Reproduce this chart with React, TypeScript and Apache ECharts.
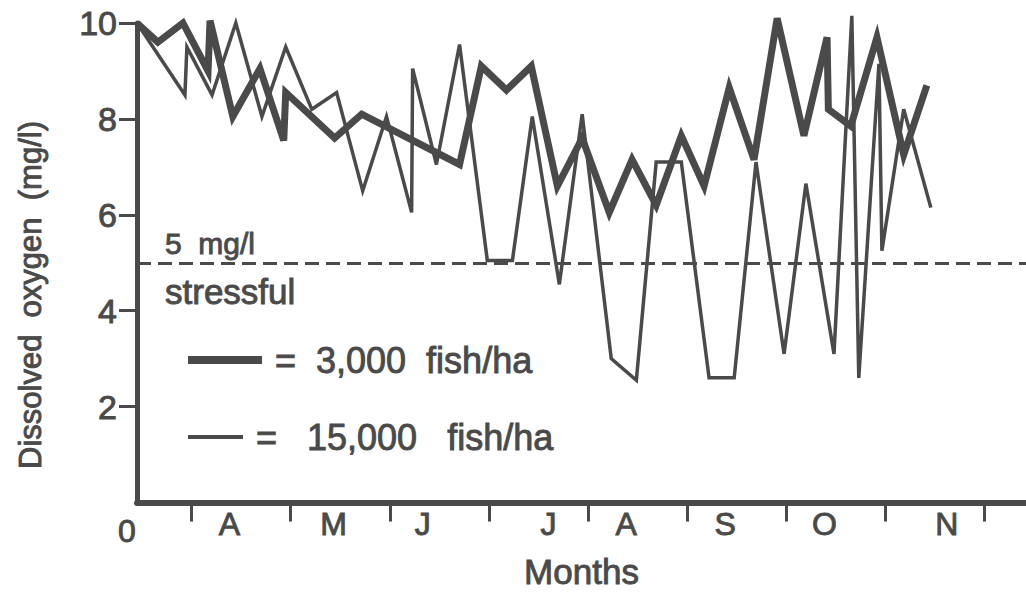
import React, { useEffect, useRef } from "react";
import * as echarts from "echarts";

// x = days since start of record, y = dissolved oxygen (mg/l)
const lowDensityDays = [0, 6.3, 13.9, 21.5, 22.1, 29, 37.2, 44.4, 45, 59.8, 68, 97.6, 104.2, 111.8, 119.3, 127.2, 134.7, 142.9, 149.8, 157.1, 164.7, 171.6, 179.2, 186.7, 193.7, 201.8, 208.8, 209.2, 216, 223.9, 232, 239];
const lowDensityDO = [10.0, 9.6, 10.0, 9.0, 10.05, 8.05, 9.05, 7.55, 8.55, 7.6, 8.1, 7.05, 9.1, 8.6, 9.1, 6.6, 7.6, 6.05, 7.15, 6.2, 7.65, 6.6, 8.65, 7.15, 10.1, 7.65, 9.7, 8.2, 7.85, 9.7, 7.25, 8.7];

const highDensityDays = [0, 14.5, 15.1, 22.7, 29.9, 37.8, 45.0, 52.9, 60.4, 68.3, 75.5, 83.1, 83.4, 90.6, 97.6, 106.0, 113.6, 119.6, 127.8, 134.7, 143.5, 151.1, 157.1, 164.7, 173.1, 180.7, 187.3, 195.8, 202.4, 210.9, 216.3, 218.4, 224.5, 225.4, 232.0, 240.2];
const highDensityDO = [10.0, 8.5, 9.5, 8.5, 10.0, 8.05, 9.5, 8.2, 8.55, 6.5, 8.05, 6.05, 9.05, 7.05, 9.55, 5.05, 5.05, 8.05, 4.55, 8.1, 3.0, 2.55, 7.1, 7.1, 2.6, 2.6, 7.1, 3.1, 6.65, 3.1, 10.15, 2.6, 9.15, 5.25, 8.2, 6.15];

const monthTickDays = [16.5, 46.5, 76.5, 106.5, 136.5, 166.5, 196.5, 226.5, 256.5];
const monthLabelDays = [28, 59.5, 86.5, 124.5, 148, 178, 208, 245];
const monthLabels = ["A", "M", "J", "J", "A", "S", "O", "N"];
const yTicks = [2, 4, 6, 8, 10];
const stressThreshold = 5;

const INK = "#4a4a4a";
const FONT = "'Liberation Sans', Arial, Helvetica, sans-serif";
const heavy = { textBorderColor: INK, textBorderWidth: 0.9 };
const heavyG = { stroke: INK, lineWidth: 0.9 };

export default function App() {
  const ref = useRef<HTMLDivElement>(null);
  useEffect(() => {
    if (!ref.current) return;
    const chart = echarts.init(ref.current, null, { renderer: "svg" });
    const zip = (xs: number[], ys: number[]) => xs.map((x, i) => [x, ys[i]]);
    chart.setOption({
      animation: false,
      backgroundColor: "#ffffff",
      textStyle: { fontFamily: FONT, color: INK },
      grid: { left: 137, right: 0, top: 23, bottom: 76, containLabel: false },
      xAxis: {
        type: "value",
        min: 0,
        max: 269,
        splitLine: { show: false },
        axisLine: { show: true, onZero: false, lineStyle: { color: INK, width: 6 } },
        axisTick: { show: true, customValues: monthTickDays, length: 19, lineStyle: { color: INK, width: 3 } },
        axisLabel: {
          show: true,
          customValues: monthLabelDays,
          margin: 5,
          fontSize: 32,
          color: INK,
          fontFamily: FONT,
          ...heavy,
          formatter: (v: number) => {
            const i = monthLabelDays.findIndex((d) => Math.abs(d - v) < 0.01);
            return i >= 0 ? monthLabels[i] : "";
          },
        },
        name: "Months",
        nameLocation: "middle",
        nameGap: 51,
        nameTextStyle: { fontSize: 35, color: INK, fontFamily: FONT, ...heavy },
      },
      yAxis: {
        type: "value",
        min: 0,
        max: 10,
        interval: 2,
        splitLine: { show: false },
        axisLine: { show: true, onZero: false, lineStyle: { color: INK, width: 5 } },
        axisTick: { show: true, customValues: yTicks, length: 18, lineStyle: { color: INK, width: 3 } },
        axisLabel: { show: true, customValues: yTicks, margin: 20, fontSize: 34, color: INK, fontFamily: FONT, ...heavy },
      },
      series: [
        {
          type: "line",
          name: "15,000 fish/ha",
          data: zip(highDensityDays, highDensityDO),
          showSymbol: false,
          symbol: "none",
          clip: false,
          lineStyle: { color: INK, width: 3.5, join: "miter" },
          markLine: {
            silent: true,
            symbol: "none",
            label: { show: false },
            lineStyle: { color: INK, width: 3, type: [14, 7] },
            data: [{ yAxis: stressThreshold }],
          },
        },
        {
          type: "line",
          name: "3,000 fish/ha",
          data: zip(lowDensityDays, lowDensityDO),
          showSymbol: false,
          symbol: "none",
          clip: false,
          lineStyle: { color: INK, width: 7, join: "miter" },
        },
      ],
      graphic: [
        {
          type: "text",
          x: 30,
          y: 295,
          rotation: Math.PI / 2,
          style: { text: "Dissolved  oxygen  (mg/l)", fontSize: 31, fill: INK, fontFamily: FONT, align: "center", verticalAlign: "middle", ...heavyG },
        },
        { type: "text", x: 127, y: 531, style: { text: "0", fontSize: 32, fill: INK, fontFamily: FONT, align: "center", verticalAlign: "middle", ...heavyG } },
        { type: "text", x: 165, y: 243, style: { text: "5  mg/l", fontSize: 30, fill: INK, fontFamily: FONT, verticalAlign: "middle", ...heavyG } },
        { type: "text", x: 165, y: 291, style: { text: "stressful", fontSize: 35, fill: INK, fontFamily: FONT, verticalAlign: "middle", ...heavyG } },
        { type: "line", shape: { x1: 188, y1: 360, x2: 262, y2: 360 }, style: { stroke: INK, lineWidth: 8 } },
        { type: "text", x: 275, y: 360, style: { text: "=  3,000  fish/ha", fontSize: 36, fill: INK, fontFamily: FONT, verticalAlign: "middle", ...heavyG } },
        { type: "line", shape: { x1: 188, y1: 437, x2: 243, y2: 437 }, style: { stroke: INK, lineWidth: 4 } },
        { type: "text", x: 256, y: 437, style: { text: "=   15,000   fish/ha", fontSize: 36, fill: INK, fontFamily: FONT, verticalAlign: "middle", ...heavyG } },
      ],
    });
    return () => chart.dispose();
  }, []);
  return (
    <div
      ref={ref}
      style={{ position: "fixed", left: 0, top: 0, width: 1026, height: 594, background: "#fff" }}
    />
  );
}
